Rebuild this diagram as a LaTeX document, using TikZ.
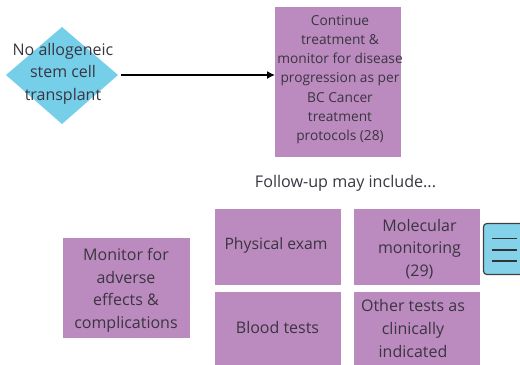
\documentclass[tikz,border=0pt]{standalone}
\usepackage{fontspec}
\setmainfont{Open Sans}
\usetikzlibrary{shapes.geometric,arrows.meta}
\definecolor{purp}{HTML}{BB8BBF}
\definecolor{sky}{HTML}{75CFE9}
\definecolor{icn}{HTML}{84D2EA}
\definecolor{txt}{HTML}{3A3540}
\tikzset{
  x=0.75pt,y=-0.75pt,
  txtbase/.style={text=txt,align=center,inner sep=0pt,outer sep=0pt},
  bigt/.style={txtbase,font=\fontsize{12}{16.9}\selectfont},
  box/.style={fill=purp,draw=none},
  conn/.style={draw=black,line width=1pt,-{Latex[length=6pt,width=6pt]}}
}
\begin{document}
\begin{tikzpicture}
\useasboundingbox (0,0) rectangle (520,364);
\begin{scope}
\clip (0,0) rectangle (520,364);
\fill[sky] (6,75) coordinate (dW) -- (62,27) -- (118,75) coordinate (dE) -- (62,124) -- cycle;
\fill[box] (275,7) rectangle (401,157);
\coordinate (cW) at (275,75);
\fill[box] (63,238) rectangle (189.5,338);
\fill[box] (215,209) rectangle (341,284.5);
\fill[box] (353.5,209) rectangle (480,284.5);
\fill[box] (215,291.5) rectangle (341,370);
\fill[box] (353.5,291.5) rectangle (480,370);
\draw[fill=icn,draw=black!75,line width=0.9pt,rounded corners=2.5pt] (483.5,223.5) rectangle (530,274.5);
\draw[black!80,line width=0.9pt] (492,238.5) -- (517,238.5) (492,250) -- (517,250) (492,261) -- (517,261);
\end{scope}
\node[bigt] (d) at (63,73.5) {No allogeneic\\stem cell\\transplant};
\node[txtbase,font=\fontsize{10.3}{14.4}\selectfont] (c) at (340,79.5) {Continue\\treatment \&\\monitor for disease\\progression as per\\BC Cancer\\treatment\\protocols (28)};
\node[txtbase,font=\fontsize{12.1}{15}\selectfont] (f) at (345.5,183.5) {Follow-up may include...};
\node[bigt] (m) at (126,290.5) {Monitor for\\adverse\\effects \&\\complications};
\node[txtbase,font=\fontsize{11.8}{16.9}\selectfont] (p) at (276,245.5) {Physical exam};
\node[bigt] (mol) at (419.5,249) {Molecular\\monitoring\\(29)};
\node[bigt] (b) at (277.5,327.5) {Blood tests};
\node[bigt] (o) at (413,328.5) {Other tests as\\clinically\\indicated};
\draw[conn,shorten <=2.2pt] (dE) -- (cW);
\end{tikzpicture}
\end{document}
